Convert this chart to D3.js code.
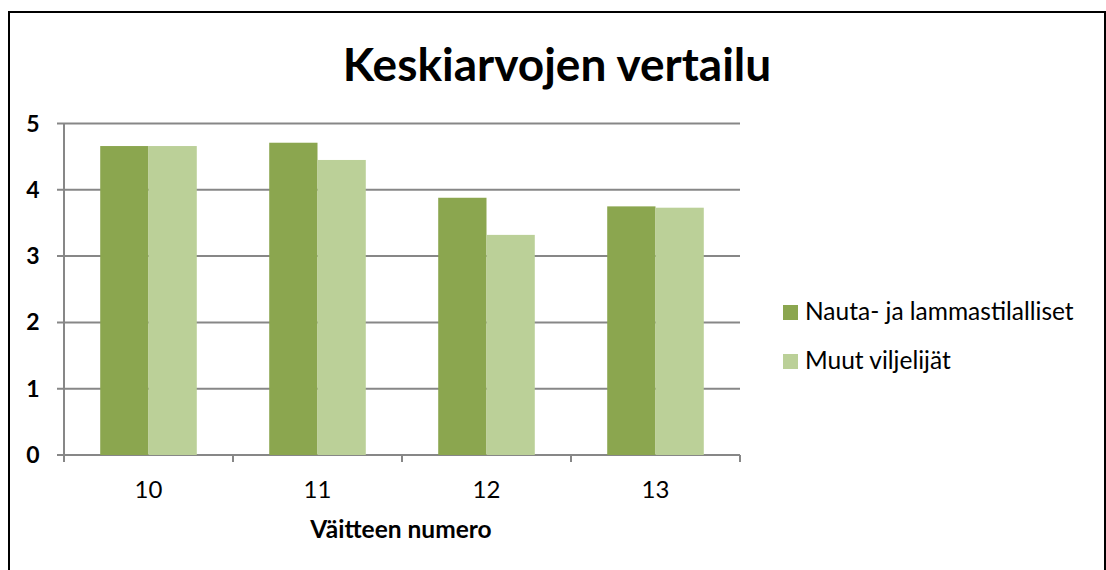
<!DOCTYPE html>
<html>
<head>
<meta charset="utf-8">
<script src="https://cdn.jsdelivr.net/npm/d3@7"></script>
<style>
  body { margin: 0; background: #fff; }
  svg { font-family: Lato, "Open Sans", sans-serif; }
</style>
</head>
<body>
<script>
// data
var categories = ["10", "11", "12", "13"];
var seriesNames = ["Nauta- ja lammastilalliset", "Muut viljelijät"];
var nautaValues = [4.66, 4.71, 3.88, 3.75];
var muutValues  = [4.66, 4.45, 3.32, 3.73];
var yTicks = [0, 1, 2, 3, 4, 5];
var colors = ["#8ba64f", "#bbd098"];

var width = 1106, height = 570;
var plot = { left: 64, right: 740, top: 123.5, bottom: 455 };

var svg = d3.select("body").append("svg")
    .attr("width", width)
    .attr("height", height);

// chart frame
svg.append("rect")
    .attr("x", 9)
    .attr("y", 12)
    .attr("width", 1096)
    .attr("height", 600)
    .attr("fill", "#fff")
    .attr("stroke", "#000")
    .attr("stroke-width", 2);

var xScale = d3.scaleBand()
    .domain(categories)
    .range([plot.left, plot.right]);

// excel gap width 150% -> two bars + 1.5 bar width gap
var barW = xScale.bandwidth() / 3.5;
var xInner = d3.scaleBand()
    .domain([0, 1])
    .range([barW * 0.75, barW * 2.75]);

var yScale = d3.scaleLinear()
    .domain([0, 5])
    .range([plot.bottom, plot.top]);

// gridlines
svg.append("g")
    .selectAll("line")
    .data(yTicks)
    .enter()
    .append("line")
    .attr("x1", plot.left - 7)
    .attr("x2", plot.right)
    .attr("y1", function(d) { return yScale(d); })
    .attr("y2", function(d) { return yScale(d); })
    .attr("stroke", "#878787")
    .attr("stroke-width", 2);

// y axis line
svg.append("line")
    .attr("x1", plot.left)
    .attr("x2", plot.left)
    .attr("y1", yScale(5))
    .attr("y2", yScale(0))
    .attr("stroke", "#878787")
    .attr("stroke-width", 2);

// y labels
svg.append("g")
    .selectAll("text")
    .data(yTicks)
    .enter()
    .append("text")
    .attr("x", 33)
    .attr("y", function(d) { return yScale(d) + 8; })
    .attr("text-anchor", "middle")
    .attr("font-size", "23px")
    .attr("font-weight", "bold")
    .text(function(d) { return d; });

// bars
var rows = categories.map(function(c, i) {
    return { cat: c, values: [nautaValues[i], muutValues[i]] };
});

var groups = svg.append("g")
    .selectAll("g")
    .data(rows)
    .enter()
    .append("g")
    .attr("transform", function(d) { return "translate(" + xScale(d.cat) + ",0)"; });

groups.selectAll("rect")
    .data(function(d) { return d.values; })
    .enter()
    .append("rect")
    .attr("x", function(d, i) { return xInner(i); })
    .attr("y", function(d) { return yScale(d); })
    .attr("width", xInner.bandwidth())
    .attr("height", function(d) { return yScale(0) - yScale(d); })
    .attr("fill", function(d, i) { return colors[i]; });

// x axis ticks (category boundaries)
var xBounds = categories.map(function(c) { return xScale(c); }).concat([plot.right]);
svg.append("g")
    .selectAll("line")
    .data(xBounds)
    .enter()
    .append("line")
    .attr("x1", function(d) { return d; })
    .attr("x2", function(d) { return d; })
    .attr("y1", yScale(0))
    .attr("y2", yScale(0) + 7)
    .attr("stroke", "#878787")
    .attr("stroke-width", 2);

// category labels
svg.append("g")
    .selectAll("text")
    .data(categories)
    .enter()
    .append("text")
    .attr("x", function(d) { return xScale(d) + xScale.bandwidth() / 2; })
    .attr("y", 498)
    .attr("text-anchor", "middle")
    .attr("font-size", "24px")
    .text(function(d) { return d; });

// axis title
svg.append("text")
    .attr("x", 401)
    .attr("y", 538)
    .attr("text-anchor", "middle")
    .attr("font-size", "24.5px")
    .attr("font-weight", "bold")
    .text("Väitteen numero");

// chart title
svg.append("text")
    .attr("x", 557)
    .attr("y", 81)
    .attr("text-anchor", "middle")
    .attr("font-size", "46px")
    .attr("font-weight", "bold")
    .text("Keskiarvojen vertailu");

// legend
var legend = svg.append("g")
    .selectAll("g")
    .data(seriesNames)
    .enter()
    .append("g")
    .attr("transform", function(d, i) { return "translate(783," + (305 + i * 49) + ")"; });

legend.append("rect")
    .attr("width", 15)
    .attr("height", 15)
    .attr("fill", function(d, i) { return colors[i]; });

legend.append("text")
    .attr("x", 22)
    .attr("y", 15)
    .attr("font-size", "24.5px")
    .text(function(d) { return d; });
</script>
</body>
</html>
